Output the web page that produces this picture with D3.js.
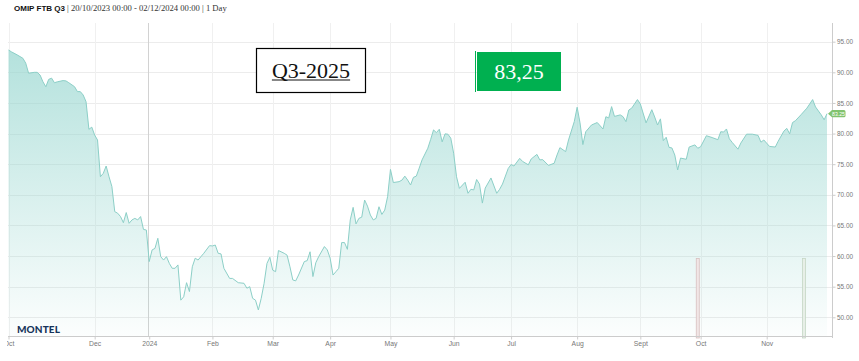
<!DOCTYPE html>
<html><head><meta charset="utf-8">
<script src="https://cdn.jsdelivr.net/npm/d3@7"></script>
<style>html,body{margin:0;padding:0;background:#fff;} svg{display:block}</style>
</head><body>
<svg id="chart" width="859" height="361"></svg>
<script>
// ---------- DATA ----------
const title = "OMIP FTB Q3";
const subtitle = " | 20/10/2023 00:00 - 02/12/2024 00:00 | 1 Day";
const contractLabel = "Q3-2025";
const priceLabel = "83,25";
const lastValue = 83.25;
const startDate = "2023-10-20";
const endDate = "2024-12-02";
const holidays = ["2023-12-25","2023-12-26","2024-01-01","2024-03-29","2024-04-01","2024-05-01"];
const tickDates = ["2023-10-20","2023-12-01","2024-01-01","2024-02-01","2024-03-01","2024-04-01","2024-05-01","2024-06-01","2024-07-01","2024-08-01","2024-09-01","2024-10-01","2024-11-01"];
const tickLabels = ["Oct","Dec","2024","Feb","Mar","Apr","May","Jun","Jul","Aug","Sept","Oct","Nov"];
const yTicks = [50,55,60,65,70,75,80,85,90,95];
// session number (trading day since start) and settlement price
const sessions = [0,1,3,5,6,7,9,10,11,12,13,14,15,16,17,19,20,21,23,24,25,26,27,28,29,30,31,32,33,34,35,36,37,38,39,40,41,42,43,44,45,46,47,48,49,50,51,52,53,54,55,56,57,58,59,60,61,62,63,64,65,66,67,68,70,71,72,73,74,75,77,78,80,82,83,84,85,86,87,88,89,90,91,92,93,94,96,97,98,99,100,101,103,104,105,106,107,108,110,111,112,113,114,115,116,117,118,119,120,121,122,123,124,125,126,127,128,129,130,131,132,133,134,136,137,138,139,140,141,142,143,144,146,147,148,149,150,151,152,153,154,155,156,157,159,160,161,162,163,164,165,166,168,170,171,172,174,175,176,178,179,181,182,184,185,186,188,190,191,192,194,195,197,198,199,200,201,203,205,207,208,209,210,211,213,214,215,216,217,219,220,222,224,225,226,227,228,229,230,231,232,233,234,236,237,239,240,241,243,245,247,248,249,250,251,252,254,255,257,259,261,262,263,265,267,268,270,271,272,273,274,276,278,280,281,283,284,285];
const prices = [93.65,93.35,92.85,92.3,91.5,89.85,90.0,90.0,89.55,88.45,87.65,88.85,89.05,88.3,88.45,88.65,88.6,88.3,87.65,86.85,86.85,86.3,85.2,80.7,81.05,79.75,78.95,72.95,73.5,74.7,72.95,71.35,67.25,67.0,66.45,65.45,67.1,65.35,65.9,66.15,65.9,66.45,64.35,64.25,59.1,61.0,61.25,62.9,59.9,59.35,59.9,58.8,58.0,58.0,58.55,52.8,53.35,55.65,54.2,58.25,59.65,59.35,59.9,60.45,61.7,61.65,61.8,60.45,60.35,58.0,56.35,56.35,55.65,55.55,54.75,55.0,53.1,52.8,51.2,53.1,55.55,58.8,59.8,57.7,57.45,60.9,60.45,60.15,58.25,56.1,55.95,56.9,59.1,59.25,60.7,56.65,58.9,59.9,61.55,61.0,59.65,56.9,57.45,58.0,62.2,62.2,61.1,65.9,67.95,65.25,66.15,66.35,69.15,68.15,66.7,65.9,66.15,68.05,66.8,67.5,69.7,74.15,72.0,72.15,72.4,73.05,72.4,71.6,72.85,73.05,74.35,75.7,77.6,79.05,80.6,80.15,80.7,78.65,79.95,79.9,79.25,76.8,72.95,71.05,72.05,70.25,70.9,70.8,72.5,71.75,68.65,71.1,72.75,70.25,70.9,71.75,74.3,74.95,74.7,75.95,75.45,74.9,75.85,76.6,75.7,75.75,74.8,75.15,76.5,77.7,77.05,78.95,81.95,84.3,81.75,78.2,80.3,81.4,81.8,80.75,82.75,82.55,84.4,82.8,83.05,82.75,81.95,83.85,84.15,85.55,84.85,81.75,83.9,82.7,81.4,82.4,78.85,79.4,77.75,77.65,76.5,74.05,76.0,75.8,77.8,78.15,77.6,77.85,79.65,79.35,79.0,80.3,80.25,80.75,79.15,78.55,77.45,78.45,79.9,79.9,79.7,78.6,78.95,77.9,77.8,78.75,80.4,80.85,79.95,81.8,82.1,83.1,84.15,85.55,84.35,83.05,82.25,83.25];
const barSessions = [240, 277];
const barValues = [59.6, 59.6];

// ---------- TRADING CALENDAR ----------
const parse = d3.utcParse("%Y-%m-%d");
const fmt = d3.utcFormat("%Y-%m-%d");
const hol = new Set(holidays);
const calendar = d3.utcDays(parse(startDate), d3.utcDay.offset(parse(endDate), 1))
  .filter(d => d.getUTCDay() !== 0 && d.getUTCDay() !== 6 && !hol.has(fmt(d)));
const tickSessions = tickDates.map(t => { const td = parse(t); return calendar.findIndex(d => d >= td); });

// ---------- LAYOUT ----------
const plot = {left: 8, right: 832, top: 23, bottom: 336};
const svg = d3.select("#chart");
const x = d3.scaleLinear().domain([0, calendar.length - 1]).range([8.5, 827]);
const y = d3.scaleLinear().domain([50, 95]).range([317.3, 41.7]);
const data = sessions.map((s, i) => ({s, v: prices[i]}));

// gradient
const defs = svg.append("defs");
const g = defs.append("linearGradient").attr("id","areaGrad")
  .attr("gradientUnits","userSpaceOnUse").attr("x1",0).attr("x2",0).attr("y1",plot.top).attr("y2",plot.bottom);
g.append("stop").attr("offset","0%").attr("stop-color","rgb(150,214,207)").attr("stop-opacity",0.78);
g.append("stop").attr("offset","100%").attr("stop-color","rgb(150,214,207)").attr("stop-opacity",0.03);
defs.append("clipPath").attr("id","axisClip").append("rect").attr("x",7).attr("y",0).attr("width",852).attr("height",361);

// title
const t = svg.append("text").attr("x",14).attr("y",11).attr("font-size",8);
t.append("tspan").attr("font-family","'Liberation Sans', Arial, sans-serif").attr("font-weight","bold").attr("fill","#111").text(title);
t.append("tspan").attr("font-family","'Liberation Serif', Georgia, serif").attr("font-size",8.6).attr("fill","#333").text(subtitle);

// horizontal grid
svg.append("g").selectAll("line").data(yTicks).join("line")
  .attr("x1",plot.left).attr("x2",plot.right)
  .attr("y1",d=>Math.round(y(d))+0.5).attr("y2",d=>Math.round(y(d))+0.5)
  .attr("stroke","#ececec").attr("stroke-width",1);

// vertical grid
svg.append("g").selectAll("line").data(tickSessions.filter((d,i)=>tickLabels[i]!=="2024")).join("line")
  .attr("x1",d=>Math.round(x(d))+0.5).attr("x2",d=>Math.round(x(d))+0.5)
  .attr("y1",plot.top).attr("y2",plot.bottom)
  .attr("stroke","#f0f0f0").attr("stroke-width",1);

// year boundary
const yearIdx = tickLabels.indexOf("2024");
svg.append("line")
  .attr("x1",Math.round(x(tickSessions[yearIdx]))-0.5).attr("x2",Math.round(x(tickSessions[yearIdx]))-0.5)
  .attr("y1",plot.top).attr("y2",plot.bottom)
  .attr("stroke","#d2d2d2").attr("stroke-width",1);

// area + line
svg.append("path").datum(data)
  .attr("d", d3.area().x(d=>x(d.s)).y0(plot.bottom).y1(d=>y(d.v)))
  .attr("fill","url(#areaGrad)");
svg.append("path").datum(data)
  .attr("d", d3.line().x(d=>x(d.s)).y(d=>y(d.v)))
  .attr("fill","none").attr("stroke","#8ccfc7").attr("stroke-width",1);

// bars
const barFill = ["#f1e6e6","#e7efe7"], barStroke = ["#d8c0c0","#c5d6c5"];
svg.append("g").selectAll("rect").data(barSessions).join("rect")
  .attr("x",d=>x(d)-1.5).attr("width",3)
  .attr("y",(d,i)=>y(barValues[i])).attr("height",(d,i)=>plot.bottom+2-y(barValues[i]))
  .attr("fill",(d,i)=>barFill[i]).attr("stroke",(d,i)=>barStroke[i]).attr("stroke-width",0.8);

// right axis
svg.append("line").attr("x1",plot.right+0.5).attr("x2",plot.right+0.5).attr("y1",plot.top).attr("y2",plot.bottom+2)
  .attr("stroke","#cccccc");
const ya = svg.append("g").attr("transform",`translate(${plot.right+0.5},0)`)
  .call(d3.axisRight(y).tickValues(yTicks).tickFormat(d3.format(".2f")).tickSize(3).tickPadding(1.5));
ya.select(".domain").remove();
ya.selectAll("line").attr("stroke","#cccccc");
ya.selectAll("text").attr("fill","#777").attr("font-size",6.4).attr("font-family","'Liberation Sans', Arial, sans-serif");

// bottom axis
svg.append("line").attr("x1",plot.left).attr("x2",plot.right).attr("y1",plot.bottom+0.5).attr("y2",plot.bottom+0.5)
  .attr("stroke","#cccccc");
const xa = svg.append("g").attr("transform",`translate(0,${plot.bottom+0.5})`).attr("clip-path","url(#axisClip)")
  .call(d3.axisBottom(x).tickValues(tickSessions).tickFormat((d,i)=>tickLabels[i]).tickSize(3).tickPadding(2));
xa.select(".domain").remove();
xa.selectAll("line").attr("stroke","#cccccc");
xa.selectAll("text").attr("fill","#777").attr("font-size",6.8).attr("font-family","'Liberation Sans', Arial, sans-serif");

// last value tag
const ly = y(lastValue);
svg.append("path")
  .attr("d",`M${plot.right-4},${ly} L${plot.right},${ly-3.6} L${plot.right+12},${ly-3.6} Q${plot.right+13.5},${ly-3.6} ${plot.right+13.5},${ly-2} L${plot.right+13.5},${ly+2} Q${plot.right+13.5},${ly+3.6} ${plot.right+12},${ly+3.6} L${plot.right},${ly+3.6} Z`)
  .attr("fill","#82c36f");
svg.append("text").attr("x",plot.right+6.5).attr("y",ly+2).attr("text-anchor","middle")
  .attr("font-size",5.2).attr("fill","#fff").attr("font-family","'Liberation Sans', Arial, sans-serif")
  .text(d3.format(".2f")(lastValue));

// logo
svg.append("text").attr("x",17).attr("y",333).attr("font-size",10).attr("font-weight",900)
  .attr("font-family","Lato, 'Open Sans', sans-serif").attr("letter-spacing",0.1).attr("fill","#17345a").text("MONTEL");

// contract box
svg.append("rect").attr("x",256.5).attr("y",48.5).attr("width",109).attr("height",44)
  .attr("fill","#fff").attr("stroke","#000").attr("stroke-width",1.2);
const ct = svg.append("text").attr("x",311).attr("y",78).attr("text-anchor","middle")
  .attr("font-size",22).attr("font-family","'Liberation Serif', 'Times New Roman', serif").attr("fill","#111").text(contractLabel);
const cw = ct.node().getComputedTextLength();
svg.append("line").attr("x1",311-cw/2).attr("x2",311+cw/2).attr("y1",80).attr("y2",80).attr("stroke","#111").attr("stroke-width",1);

// price box
svg.append("line").attr("x1",475.5).attr("x2",475.5).attr("y1",51).attr("y2",92).attr("stroke","#00b050").attr("stroke-width",1);
svg.append("rect").attr("x",477).attr("y",52).attr("width",84).attr("height",39).attr("fill","#00b050");
svg.append("text").attr("x",519).attr("y",79.3).attr("text-anchor","middle")
  .attr("font-size",22).attr("font-family","'Liberation Serif', 'Times New Roman', serif").attr("fill","#fff").text(priceLabel);
</script>
</body></html>
